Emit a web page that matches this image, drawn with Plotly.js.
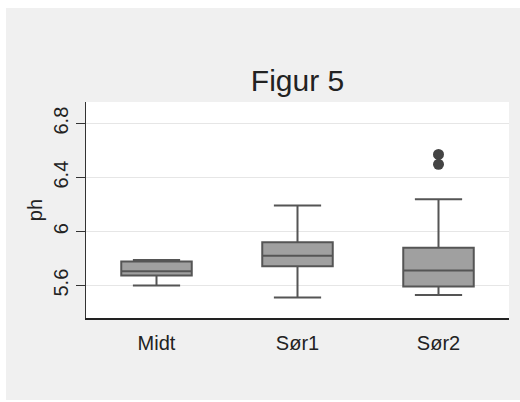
<!DOCTYPE html>
<html>
<head>
<meta charset="utf-8">
<script src="https://cdn.plot.ly/plotly-3.0.1.min.js"></script>
<style>
html,body{margin:0;padding:0;background:#ffffff;}
#chart{position:absolute;left:6px;top:8px;width:514px;height:392px;}
</style>
</head>
<body>
<div id="chart"></div>
<script>
var categories = ['Midt', 'Sør1', 'Sør2'];
var lowerWhisker = [5.60, 5.511, 5.530];
var q1Values = [5.674, 5.743, 5.593];
var medianValues = [5.706, 5.822, 5.711];
var q3Values = [5.778, 5.921, 5.881];
var upperWhisker = [5.790, 6.193, 6.239];
var outlierCats = ['Sør2', 'Sør2'];
var outlierValues = [6.572, 6.498];
var yTicks = [5.6, 6, 6.4, 6.8];
var yTickText = ['5.6', '6', '6.4', '6.8'];

var font = 'Liberation Sans, Arial, sans-serif';

var boxTrace = {
  type: 'box',
  x: categories,
  q1: q1Values,
  median: medianValues,
  q3: q3Values,
  lowerfence: lowerWhisker,
  upperfence: upperWhisker,
  width: 0.5,
  whiskerwidth: 0.67,
  fillcolor: '#a0a0a0',
  line: {color: '#555555', width: 2},
  boxpoints: false,
  hoverinfo: 'none',
  showlegend: false
};

var outTrace = {
  type: 'scatter',
  mode: 'markers',
  x: outlierCats,
  y: outlierValues,
  marker: {color: '#444444', size: 11},
  hoverinfo: 'none',
  showlegend: false
};

var layout = {
  width: 514,
  height: 392,
  paper_bgcolor: '#f0f0f0',
  plot_bgcolor: '#ffffff',
  margin: {l: 80, r: 11, t: 94, b: 82},
  font: {family: font, color: '#222222'},
  title: {
    text: 'Figur 5',
    font: {family: font, size: 30, color: '#222222'},
    x: 0.5, xref: 'paper', xanchor: 'center',
    y: 0.814, yref: 'container', yanchor: 'middle'
  },
  xaxis: {
    type: 'category',
    categoryorder: 'array',
    categoryarray: categories,
    range: [-0.5, 2.5],
    showline: true,
    linecolor: '#222222',
    linewidth: 1.5,
    ticks: '',
    showgrid: false,
    zeroline: false,
    tickfont: {family: font, size: 20, color: '#222222'},
    ticklabelstandoff: 6
  },
  yaxis: {
    range: [5.36, 6.96],
    tickvals: yTicks,
    ticktext: yTickText,
    tickangle: -90,
    ticks: 'outside',
    ticklen: 9,
    tickwidth: 1.2,
    tickcolor: '#333333',
    showline: true,
    linecolor: '#333333',
    linewidth: 1.5,
    showgrid: true,
    gridcolor: '#e6e6e6',
    gridwidth: 1,
    zeroline: false,
    tickfont: {family: font, size: 20, color: '#222222'},
    title: {text: 'ph', font: {family: font, size: 20, color: '#222222'}, standoff: 1}
  }
};

Plotly.newPlot('chart', [boxTrace, outTrace], layout, {displayModeBar: false, staticPlot: true});
</script>
</body>
</html>
